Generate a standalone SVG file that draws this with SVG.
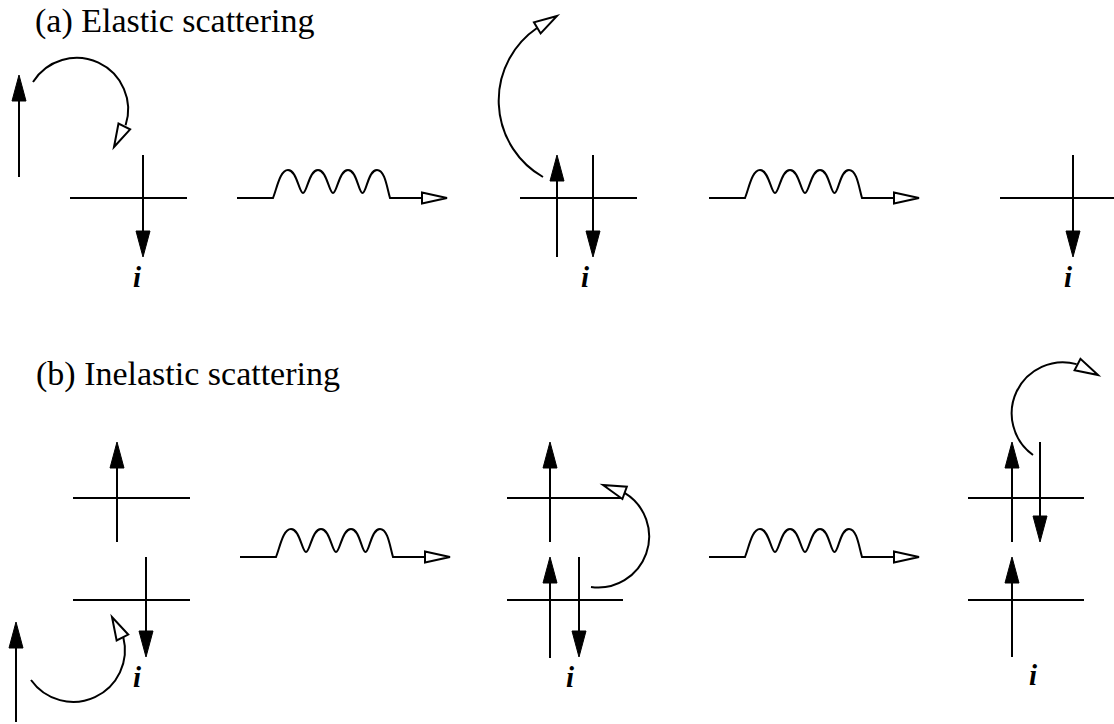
<svg xmlns="http://www.w3.org/2000/svg" xmlns:xlink="http://www.w3.org/1999/xlink" width="1114" height="724" viewBox="0 0 1114 724">
<style>
.ln{stroke:#000;stroke-width:2;fill:none}
.title{font-family:"Liberation Serif","Times New Roman",serif;font-size:34px;fill:#000}
.lbl{font-family:"Liberation Serif","Times New Roman",serif;font-size:29px;font-weight:bold;font-style:italic;fill:#000;text-anchor:middle}
</style>
<defs>
<path id="fh" d="M0,0 L-26,-7 L-26,7 Z" fill="#000" stroke="#000" stroke-width="1"/>
<path id="hh" d="M0,0 L-23,-6.5 L-23,6.5 Z" fill="#fff" stroke="#000" stroke-width="2" stroke-linejoin="miter"/>
<path id="wh" d="M0,0 L-25,-5.5 L-25,5.5 Z" fill="#fff" stroke="#000" stroke-width="2"/>
<g id="wave">
<path class="ln" d="M237,198 H273 C277,188 280,170 288,170 C297,170 299,193 303,193 C307,193 309,170 318,170 C327,170 329,193 333,193 C337,193 339,170 348,170 C357,170 358.5,193 362.5,193 C366.5,193 368,170 377,170 C385,170 387,188 390,198 H422"/>
<use xlink:href="#wh" href="#wh" transform="translate(447,198)"/>
</g>
</defs>
<rect width="1114" height="724" fill="#fff"/>
<text class="title" x="35" y="32">(a) Elastic scattering</text>
<text class="title" x="36" y="385">(b) Inelastic scattering</text>

<g id="a1">
<line class="ln" x1="19" y1="177" x2="19" y2="100"/>
<use href="#fh" transform="translate(19,75) rotate(-90)"/>
<line class="ln" x1="70" y1="198" x2="187" y2="198"/>
<line class="ln" x1="143" y1="155" x2="143" y2="232"/>
<use href="#fh" transform="translate(143,257) rotate(90)"/>
<path class="ln" d="M33,82 A51.5 51.5 0 0 1 125.6,125.3"/>
<use href="#hh" transform="translate(114,147) rotate(116.6)"/>
<text class="lbl" x="137" y="287">i</text>
</g>

<g id="a2">
<line class="ln" x1="520" y1="198" x2="637" y2="198"/>
<line class="ln" x1="557" y1="257" x2="557" y2="180"/>
<use href="#fh" transform="translate(557,155) rotate(-90)"/>
<line class="ln" x1="593" y1="155" x2="593" y2="232"/>
<use href="#fh" transform="translate(593,257) rotate(90)"/>
<path class="ln" d="M543,177 A88 88 0 0 1 537,28"/>
<use href="#hh" transform="translate(557,16) rotate(-31)"/>
<text class="lbl" x="585" y="287">i</text>
</g>

<g id="a3">
<line class="ln" x1="1000" y1="198" x2="1114" y2="198"/>
<line class="ln" x1="1073" y1="155" x2="1073" y2="232"/>
<use href="#fh" transform="translate(1073,257) rotate(90)"/>
<text class="lbl" x="1068" y="287">i</text>
</g>

<g id="b1">
<line class="ln" x1="73" y1="498" x2="190" y2="498"/>
<line class="ln" x1="117" y1="542" x2="117" y2="467"/>
<use href="#fh" transform="translate(117,442) rotate(-90)"/>
<line class="ln" x1="73" y1="600" x2="190" y2="600"/>
<line class="ln" x1="146" y1="557" x2="146" y2="632"/>
<use href="#fh" transform="translate(146,657) rotate(90)"/>
<line class="ln" x1="16" y1="722" x2="16" y2="647"/>
<use href="#fh" transform="translate(16,622) rotate(-90)"/>
<path class="ln" d="M31,680 A51.7 51.7 0 0 0 123.3,637.3"/>
<use href="#hh" transform="translate(112,617) rotate(-117)"/>
<text class="lbl" x="137" y="687">i</text>
</g>

<g id="b2">
<line class="ln" x1="507" y1="498" x2="623" y2="498"/>
<line class="ln" x1="550" y1="542" x2="550" y2="467"/>
<use href="#fh" transform="translate(550,442) rotate(-90)"/>
<line class="ln" x1="507" y1="600" x2="623" y2="600"/>
<line class="ln" x1="550" y1="658" x2="550" y2="582"/>
<use href="#fh" transform="translate(550,557) rotate(-90)"/>
<line class="ln" x1="579" y1="557" x2="579" y2="632"/>
<use href="#fh" transform="translate(579,657) rotate(90)"/>
<path class="ln" d="M591,587 A51 51 0 0 0 624.6,492.9"/>
<use href="#hh" transform="translate(603,485) rotate(-160)"/>
<text class="lbl" x="570" y="687">i</text>
</g>

<g id="b3">
<line class="ln" x1="968" y1="498" x2="1084" y2="498"/>
<line class="ln" x1="1012" y1="542" x2="1012" y2="467"/>
<use href="#fh" transform="translate(1012,442) rotate(-90)"/>
<line class="ln" x1="1040" y1="442" x2="1040" y2="517"/>
<use href="#fh" transform="translate(1040,542) rotate(90)"/>
<line class="ln" x1="968" y1="600" x2="1084" y2="600"/>
<line class="ln" x1="1012" y1="657" x2="1012" y2="582"/>
<use href="#fh" transform="translate(1012,557) rotate(-90)"/>
<path class="ln" d="M1033,455 A51.2 51.2 0 0 1 1076.6,364.1"/>
<use href="#hh" transform="translate(1098,375) rotate(27)"/>
<text class="lbl" x="1033" y="685">i</text>
</g>

<g id="connectors">
<use href="#wave"/>
<use href="#wave" transform="translate(472,0)"/>
<use href="#wave" transform="translate(3,359)"/>
<use href="#wave" transform="translate(472,359)"/>
</g>
</svg>
